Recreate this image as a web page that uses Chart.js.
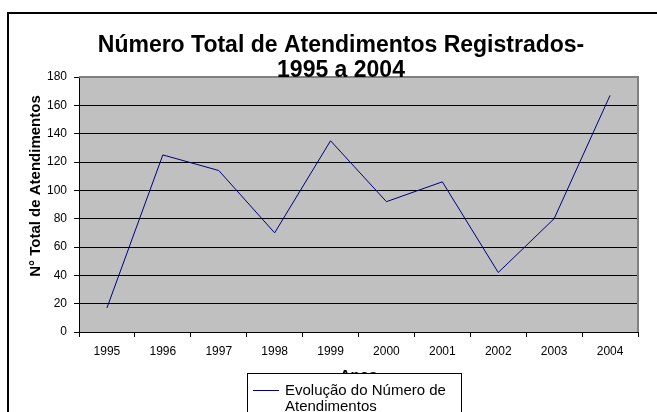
<!DOCTYPE html>
<html lang="pt">
<head>
    <meta charset="UTF-8">
    <title>Número Total de Atendimentos Registrados</title>
    <script src="https://cdn.jsdelivr.net/npm/chart.js"></script>
    <style>
        html, body { margin: 0; padding: 0; background: #fff; }
        canvas { display: block; }
    </style>
</head>
<body>
    <canvas id="grafico" width="657" height="412"></canvas>

    <script>
        // Dados
        const anos = ['1995', '1996', '1997', '1998', '1999', '2000', '2001', '2002', '2003', '2004'];
        const atendimentos = [17, 125, 114, 70, 135, 92, 106, 42, 80, 167];
        const yMin = 0, yMax = 180, yPasso = 20;

        const tituloLinhas = ['Número Total de Atendimentos Registrados-', '1995 a 2004'];
        const tituloY = 'N° Total de Atendimentos';
        const tituloX = 'Anos';
        const legendaLinhas = ['Evolução do Número de', 'Atendimentos'];

        const FONTE = '"Liberation Sans", Arial, sans-serif';

        // Fundo, moldura, títulos e legenda desenhados à mão (estilo Excel)
        const moldura = {
            id: 'moldura',
            beforeDraw(chart) {
                const { ctx, chartArea: a } = chart;
                ctx.save();
                ctx.fillStyle = '#fff';
                ctx.fillRect(0, 0, chart.width, chart.height);
                ctx.strokeStyle = '#000';
                ctx.lineWidth = 2;
                ctx.strokeRect(8, 13, 720, 500);
                ctx.fillStyle = '#c0c0c0';
                ctx.fillRect(a.left, a.top, a.right - a.left, a.bottom - a.top);
                ctx.restore();
            },
            afterDraw(chart) {
                const { ctx, chartArea: a } = chart;
                ctx.save();
                // borda cinza superior e direita da área de plotagem
                ctx.strokeStyle = '#808080';
                ctx.lineWidth = 2;
                ctx.beginPath();
                ctx.moveTo(a.left, a.top);
                ctx.lineTo(a.right, a.top);
                ctx.lineTo(a.right, a.bottom);
                ctx.stroke();

                // título
                ctx.fillStyle = '#000';
                ctx.textAlign = 'center';
                ctx.textBaseline = 'alphabetic';
                ctx.font = 'bold 23px ' + FONTE;
                ctx.fillText(tituloLinhas[0], 341, 52);
                ctx.fillText(tituloLinhas[1], 341, 77);

                // título do eixo Y
                ctx.save();
                ctx.translate(36, 186);
                ctx.rotate(-Math.PI / 2);
                ctx.font = 'bold 15px ' + FONTE;
                ctx.textBaseline = 'middle';
                ctx.fillText(tituloY, 0, 0);
                ctx.restore();

                // título do eixo X (parcialmente coberto pela legenda)
                ctx.font = 'bold 15px ' + FONTE;
                ctx.textBaseline = 'alphabetic';
                ctx.fillText(tituloX, (a.left + a.right) / 2, 380);

                // legenda
                ctx.fillStyle = '#fff';
                ctx.fillRect(247, 373, 214, 60);
                ctx.strokeStyle = '#000';
                ctx.lineWidth = 1;
                ctx.strokeRect(247.5, 373.5, 214, 60);
                const ds = chart.data.datasets[0];
                ctx.strokeStyle = ds.borderColor;
                ctx.beginPath();
                ctx.moveTo(253, 390.5);
                ctx.lineTo(279, 390.5);
                ctx.stroke();
                ctx.fillStyle = '#000';
                ctx.textAlign = 'left';
                ctx.font = '15px ' + FONTE;
                ctx.fillText(legendaLinhas[0], 285, 395);
                ctx.fillText(legendaLinhas[1], 285, 411);
                ctx.restore();
            }
        };

        new Chart(document.getElementById('grafico'), {
            type: 'line',
            data: {
                labels: anos,
                datasets: [{
                    label: legendaLinhas.join(' '),
                    data: atendimentos,
                    borderColor: '#000080',
                    borderWidth: 1,
                    pointRadius: 0,
                    tension: 0,
                    fill: false
                }]
            },
            options: {
                responsive: false,
                animation: false,
                layout: { padding: { top: 77, right: 19, left: 0, bottom: 0 } },
                plugins: {
                    legend: { display: false },
                    title: { display: false },
                    tooltip: { enabled: false }
                },
                scales: {
                    x: {
                        offset: true,
                        grid: {
                            offset: true,
                            drawOnChartArea: false,
                            drawTicks: true,
                            tickLength: 5,
                            color: '#000'
                        },
                        border: { color: '#000', width: 1 },
                        ticks: {
                            color: '#000',
                            font: { family: FONTE, size: 12 },
                            padding: 7,
                            maxRotation: 0
                        },
                        afterFit(s) { s.height = 80; }
                    },
                    y: {
                        min: yMin,
                        max: yMax,
                        grid: { color: '#000', tickLength: 5 },
                        border: { color: '#000', width: 1 },
                        ticks: {
                            stepSize: yPasso,
                            color: '#000',
                            font: { family: FONTE, size: 12 },
                            padding: 7
                        },
                        afterFit(s) { s.width = 79; }
                    }
                }
            },
            plugins: [moldura]
        });
    </script>
</body>
</html>
